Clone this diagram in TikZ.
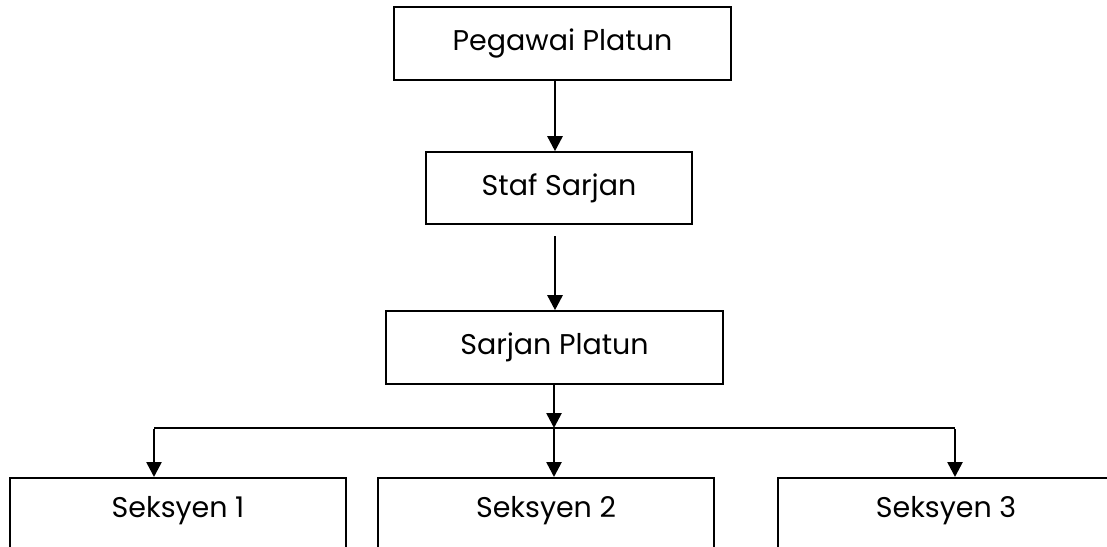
\documentclass[tikz,border=0pt]{standalone}
\usepackage{fontspec}
\setmainfont{Poppins}
\usetikzlibrary{arrows.meta}

\begin{document}
\begin{tikzpicture}[x=1pt,y=-1pt,
  rankbox/.style={draw,line width=1.6pt,inner sep=0pt,font=\fontsize{28.5}{32}\selectfont},
  sekbox/.style={draw,line width=1.6pt,anchor=north,minimum width=336pt,inner xsep=0pt,inner ysep=19pt,
    text height=21pt,text depth=70pt,font=\fontsize{28.5}{32}\selectfont},
  arr/.style={line width=2.6pt,-{Triangle[width=15pt,length=15pt]}},
  ln/.style={line width=2.6pt}]
%uncomment if require: \path (0,546); %diagram is 1107 wide and 546 high
\clip (0,0) rectangle (1107,546);

%Shape: Rectangle
\node [rankbox,minimum width=337pt,minimum height=73pt] (pegawai) at (562.5,43.5) {Pegawai Platun};
%Shape: Rectangle
\node [rankbox,minimum width=266pt,minimum height=72pt] (staf) at (559,188) {Staf Sarjan};
%Shape: Rectangle
\node [rankbox,minimum width=337pt,minimum height=73pt] (sarjan) at (554.5,347.5) {Sarjan Platun};

%Shape: Rectangle
\node [sekbox] (sek1) at (178,477) {Seksyen 1};
%Shape: Rectangle
\node [sekbox] (sek2) at (546,477) {Seksyen 2};
%Shape: Rectangle
\node [sekbox] (sek3) at (946,477) {Seksyen 3};

%Junction points
\coordinate (gap) at (555,236);
\coordinate (jl) at (154,428);
\coordinate (jm) at (554,428);
\coordinate (jr) at (955,428);

%Straight Lines
\draw [arr] (pegawai.south -| gap) -- (staf.north -| gap);
\draw [arr] (gap) -- (sarjan.north -| gap);
\draw [arr] (sarjan.south -| jm) -- (jm);
\draw [ln] (jl) -- (jr);
\draw [arr] ([yshift=-1.3pt]jl) -- (sek1.north -| jl);
\draw [arr] (jm) -- (sek2.north -| jm);
\draw [arr] ([yshift=-1.3pt]jr) -- (sek3.north -| jr);

\end{tikzpicture}
\end{document}
